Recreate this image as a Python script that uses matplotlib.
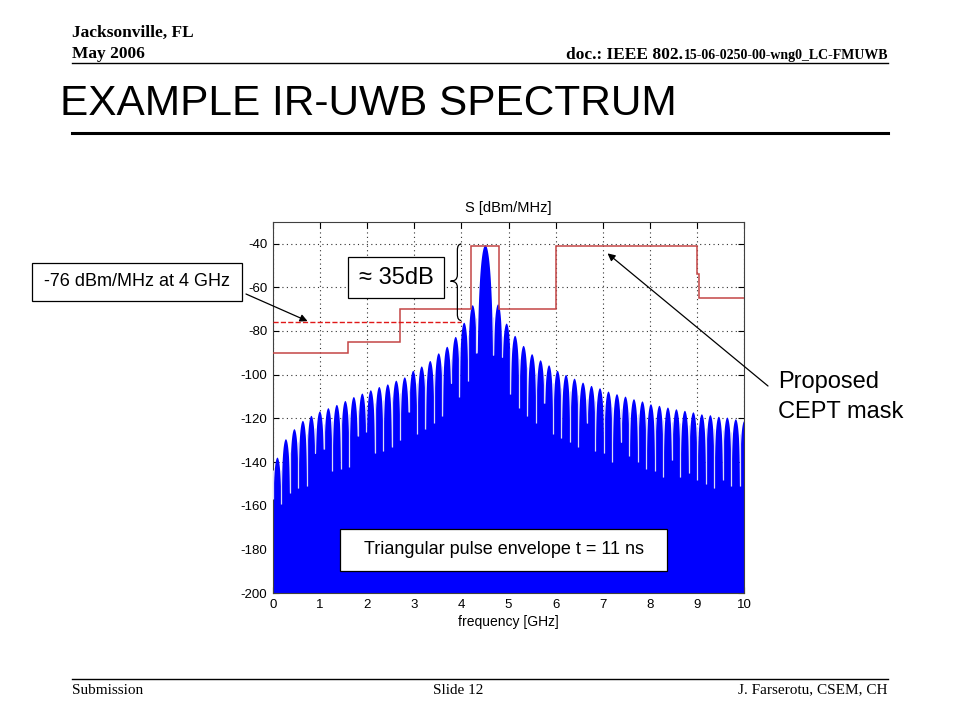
import numpy as np
import matplotlib
matplotlib.use('Agg')
import matplotlib.pyplot as plt
from matplotlib.path import Path
from matplotlib.patches import PathPatch, Rectangle
from matplotlib.lines import Line2D

plt.rcParams['font.family'] = ['Liberation Sans', 'DejaVu Sans']
plt.rcParams['axes.unicode_minus'] = False

# comb nulls (GHz) and how deep each null goes (dBm/MHz)
null_f = [0.00, 0.18, 0.36, 0.54, 0.72, 0.90, 1.08, 1.26, 1.44, 1.62,
          1.80, 1.98, 2.16, 2.34, 2.52, 2.70, 2.88, 3.06, 3.24, 3.42,
          3.60, 3.78, 3.96, 4.14, 4.32,
          4.68, 4.86, 5.04, 5.22, 5.40, 5.58, 5.76, 5.94, 6.12, 6.30,
          6.48, 6.66, 6.84, 7.02, 7.20, 7.38, 7.56, 7.74, 7.92, 8.10,
          8.28, 8.46, 8.64, 8.82, 9.00, 9.18, 9.36, 9.54, 9.72, 9.90, 10.08]
null_db = [-157, -159, -154, -152, -151, -136, -134, -144, -143, -142,
           -128, -126, -136, -135, -133, -130, -117, -127, -125, -122,
           -119, -104, -110, -103, -90,
           -91, -92, -109, -115, -119, -122, -113, -127, -129, -131,
           -133, -122, -135, -136, -140, -131, -137, -140, -143, -144,
           -147, -139, -147, -145, -148, -150, -152, -148, -151, -151, -151]
# peak of each lobe between two nulls
peak_db = [-137.7, -129.3, -124.7, -120.9, -118.6, -116.6, -115.1, -113.6,
           -111.8, -110.0, -108.4, -106.9, -105.4, -104.2, -102.5, -101.0,
           -98.0, -96.0, -93.5, -90.0, -87.0, -82.5, -76.0, -68.0,
           -40.5,
           -67.6, -76.4, -82.0, -86.6, -90.4, -93.2, -95.5, -98.0, -99.9,
           -101.6, -103.4, -104.9, -106.0, -107.5, -108.7, -109.8, -111.0,
           -112.0, -113.3, -114.0, -114.8, -115.6, -116.3, -117.0, -117.9,
           -118.3, -119.0, -119.4, -120.2, -121.0]

# proposed CEPT mask
mask_edges = [0, 1.6, 2.7, 4.2, 4.8, 6.0, 9.0, 9.03, 10]
mask_db = [-90, -85, -70, -41.3, -70, -41.3, -54, -65]
ref_level = -76    # dBm/MHz at 4 GHz
ref_until = 4.0

W, H = 960, 720
fig = plt.figure(figsize=(9.6, 7.2), dpi=100)


def fx(x):
    return x / W


def fy(y):
    return 1 - y / H


def ftxt(x, y, s, **kw):
    return fig.text(fx(x), fy(y), s, **kw)


# ---- slide header / footer ----
serif = ['Liberation Serif', 'DejaVu Serif']
ftxt(72, 37, 'Jacksonville, FL', family=serif, weight='bold', fontsize=12.5, va='baseline')
ftxt(72, 58, 'May 2006', family=serif, weight='bold', fontsize=12.5, va='baseline')
t2 = ftxt(888, 59, '15-06-0250-00-wng0_LC-FMUWB', family=serif, weight='bold',
          fontsize=10, ha='right', va='baseline')
fig.canvas.draw()
bb = t2.get_window_extent(fig.canvas.get_renderer())
fig.text(bb.x0 / W, fy(59), 'doc.: IEEE 802.', family=serif, weight='bold',
         fontsize=12.5, ha='right', va='baseline')
fig.add_artist(Line2D([fx(72), fx(888)], [fy(63), fy(63)], color='k', lw=1))

ftxt(60, 104, 'EXAMPLE IR-UWB SPECTRUM', fontsize=30.5, va='center')
fig.add_artist(Line2D([fx(72), fx(888)], [fy(133), fy(133)], color='k', lw=2.2))

fig.add_artist(Line2D([fx(72), fx(888)], [fy(679), fy(679)], color='k', lw=1))
ftxt(72, 690, 'Submission', family=serif, fontsize=11, va='center')
ftxt(458, 690, 'Slide 12', family=serif, fontsize=11, va='center', ha='center')
ftxt(888, 690, 'J. Farserotu, CSEM, CH', family=serif, fontsize=11, va='center', ha='right')

# ---- the spectrum plot ----
ax = fig.add_axes([fx(272.7), fy(593.3), fx(744.3 - 272.7), (593.3 - 221.7) / H])

xs, ys = [], []
for i in range(len(peak_db)):
    a, b = null_f[i], null_f[i + 1]
    x = np.linspace(a, b, 120)
    u = (x - a) / (b - a)
    # main lobe is drawn more pointed, side lobes rounder
    k = 60 if (b - a) > 0.3 else 22
    y = peak_db[i] + k * np.log10(np.sin(np.pi * u) + 1e-12)
    floor = np.where(u < 0.5, null_db[i], null_db[i + 1])
    xs.append(x)
    ys.append(np.maximum(y, floor))
xs = np.concatenate(xs)
ys = np.concatenate(ys)
ax.fill_between(xs, -200, ys, color='#0000ff', lw=0, zorder=2)

# white null lines
tops = []
for i in range(len(null_f)):
    left = peak_db[i - 1] if i > 0 else peak_db[0]
    right = peak_db[i] if i < len(peak_db) else peak_db[-1]
    tops.append(min(left, right) - 6)
ax.vlines(null_f, null_db, tops, color='#dcdcf6', lw=0.9, zorder=3)

ax.stairs(mask_db, mask_edges, baseline=None, color='#c44545', lw=1.1, zorder=4)
ax.hlines(ref_level, 0, ref_until, color='#e01818', lw=1.0, linestyles='--', zorder=4)

ax.set_xlim(0, 10)
ax.set_ylim(-200, -30)
ax.set_xticks(range(0, 11))
ax.set_yticks(range(-200, -39, 20))
ax.set_axisbelow(True)
ax.grid(True, color='#303030', linestyle=(0, (1, 3)), lw=0.8)
ax.tick_params(direction='in', top=True, right=True, labelsize=9.5, length=4, pad=4)
for s in ax.spines.values():
    s.set_color('#404040')
    s.set_linewidth(0.8)
ax.set_title('S [dBm/MHz]', fontsize=10.5, pad=7)
ax.set_xlabel('frequency [GHz]', fontsize=10, labelpad=3)

# brace marking the ~35 dB gap
bx, bx2, tip = 3.916, 4.0, 3.77
y0, y1, ym = -40.2, -75.2, -57.2
verts = [(bx2, y0), (bx, y0), (bx, y0 - 2.8),
         (bx, ym + 2.8), (bx, ym), (tip, ym),
         (bx, ym), (bx, ym - 2.8),
         (bx, y1 + 2.8), (bx, y1), (bx2, y1)]
codes = [Path.MOVETO, Path.CURVE3, Path.CURVE3,
         Path.LINETO, Path.CURVE3, Path.CURVE3,
         Path.CURVE3, Path.CURVE3,
         Path.LINETO, Path.CURVE3, Path.CURVE3]
ax.add_patch(PathPatch(Path(verts, codes), fill=False, lw=0.9, color='k', zorder=5))

# ---- text boxes and arrows ----
def box(x0, y0, x1, y1, s, size):
    fig.add_artist(Rectangle((fx(x0), fy(y1)), fx(x1 - x0), (y1 - y0) / H,
                             facecolor='white', edgecolor='k', lw=0.9, zorder=6))
    ftxt((x0 + x1) / 2, (y0 + y1) / 2, s, fontsize=size, ha='center', va='center', zorder=7)


box(32, 263, 242, 301, '-76 dBm/MHz at 4 GHz', 13)
box(348, 257, 444, 298, '≈ 35dB', 17)
box(340, 529, 667, 571, 'Triangular pulse envelope t = 11 ns', 13)

ftxt(778, 382, 'Proposed', fontsize=17, va='center')
ftxt(778, 412, 'CEPT mask', fontsize=17, va='center')

arrow = dict(arrowstyle='-|>', color='k', lw=0.9, mutation_scale=11, shrinkA=0, shrinkB=0)
ax.annotate('', xy=(0.74, -75.5), xycoords='data',
            xytext=(fx(246), fy(294)), textcoords='figure fraction',
            arrowprops=arrow, annotation_clip=False)
ax.annotate('', xy=(7.1, -44.5), xycoords='data',
            xytext=(fx(768), fy(386)), textcoords='figure fraction',
            arrowprops=arrow, annotation_clip=False)

fig.savefig('out.png', dpi=100)
